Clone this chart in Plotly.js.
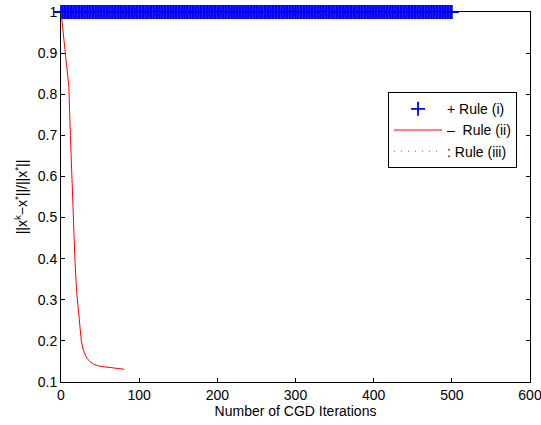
<!DOCTYPE html>
<html>
<head>
<meta charset="utf-8">
<script src="https://cdn.plot.ly/plotly-3.0.1.min.js"></script>
<style>html,body{margin:0;padding:0;background:#fff;}#chart{width:541px;height:425px;}</style>
</head>
<body>
<div id="chart"></div>
<script>
// Rule (i): relative error stays at 1 for all 500 iterations (markers every 2 iterations)
const ruleIIter = [
0,2,4,6,8,10,12,14,16,18,20,22,24,26,28,30,32,34,36,38,40,42,44,46,48,
50,52,54,56,58,60,62,64,66,68,70,72,74,76,78,80,82,84,86,88,90,92,94,96,98,
100,102,104,106,108,110,112,114,116,118,120,122,124,126,128,130,132,134,136,138,140,142,144,146,148,
150,152,154,156,158,160,162,164,166,168,170,172,174,176,178,180,182,184,186,188,190,192,194,196,198,
200,202,204,206,208,210,212,214,216,218,220,222,224,226,228,230,232,234,236,238,240,242,244,246,248,
250,252,254,256,258,260,262,264,266,268,270,272,274,276,278,280,282,284,286,288,290,292,294,296,298,
300,302,304,306,308,310,312,314,316,318,320,322,324,326,328,330,332,334,336,338,340,342,344,346,348,
350,352,354,356,358,360,362,364,366,368,370,372,374,376,378,380,382,384,386,388,390,392,394,396,398,
400,402,404,406,408,410,412,414,416,418,420,422,424,426,428,430,432,434,436,438,440,442,444,446,448,
450,452,454,456,458,460,462,464,466,468,470,472,474,476,478,480,482,484,486,488,490,492,494,496,498,
500];
const ruleIErr = [
1,1,1,1,1,1,1,1,1,1,1,1,1,1,1,1,1,1,1,1,1,1,1,1,1,
1,1,1,1,1,1,1,1,1,1,1,1,1,1,1,1,1,1,1,1,1,1,1,1,1,
1,1,1,1,1,1,1,1,1,1,1,1,1,1,1,1,1,1,1,1,1,1,1,1,1,
1,1,1,1,1,1,1,1,1,1,1,1,1,1,1,1,1,1,1,1,1,1,1,1,1,
1,1,1,1,1,1,1,1,1,1,1,1,1,1,1,1,1,1,1,1,1,1,1,1,1,
1,1,1,1,1,1,1,1,1,1,1,1,1,1,1,1,1,1,1,1,1,1,1,1,1,
1,1,1,1,1,1,1,1,1,1,1,1,1,1,1,1,1,1,1,1,1,1,1,1,1,
1,1,1,1,1,1,1,1,1,1,1,1,1,1,1,1,1,1,1,1,1,1,1,1,1,
1,1,1,1,1,1,1,1,1,1,1,1,1,1,1,1,1,1,1,1,1,1,1,1,1,
1,1,1,1,1,1,1,1,1,1,1,1,1,1,1,1,1,1,1,1,1,1,1,1,1,
1];

// Rule (ii)
const ruleIIIter = [0,5,10,12,14,16,18,20,22,24,26,28,30,33,37,42,48,55,64,72,81];
const ruleIIErr  = [1.000,0.910,0.820,0.700,0.590,0.480,0.390,0.320,0.275,0.235,0.200,0.182,0.170,0.158,0.150,0.143,0.139,0.137,0.135,0.133,0.131];

// Rule (iii) (hidden beneath Rule (i))
const ruleIIIIter = [0,500];
const ruleIIIErr  = [1,1];

const legendNames = ['+ Rule (i)', '\u2013\u00a0\u00a0Rule (ii)', ':\u00a0Rule (iii)'];
const xTicks = [0,100,200,300,400,500,600];
const yTicks = [0.1,0.2,0.3,0.4,0.5,0.6,0.7,0.8,0.9,1];

const traces = [
  {x: ruleIIter, y: ruleIErr, name: legendNames[0], type: 'scatter', mode: 'markers',
   cliponaxis: false,
   marker: {symbol: 'cross-thin', size: 10, color: '#0000ff', line: {color: '#0000ff', width: 1.8}}},
  {x: ruleIIIter, y: ruleIIErr, name: legendNames[1], type: 'scatter', mode: 'lines',
   line: {color: '#ff0000', width: 1}},
  {x: ruleIIIIter, y: ruleIIIErr, name: legendNames[2], type: 'scatter', mode: 'lines',
   line: {color: '#666666', width: 1, dash: '1px,6px'}}
];

const axisCommon = {
  showline: true, linecolor: '#000', linewidth: 1, mirror: 'ticks',
  ticks: 'inside', ticklen: 4, tickwidth: 1, tickcolor: '#000',
  showgrid: false, zeroline: false,
  tickfont: {family: 'Liberation Sans, Arial, sans-serif', size: 14, color: '#000'}
};

const layout = {
  width: 541, height: 425,
  margin: {l: 61, r: 11, t: 12, b: 43},
  paper_bgcolor: '#fff', plot_bgcolor: '#fff',
  font: {family: 'Liberation Sans, Arial, sans-serif', size: 14, color: '#000'},
  xaxis: Object.assign({}, axisCommon, {
    range: [0, 600], tickmode: 'array', tickvals: xTicks, ticktext: xTicks.map(String),
    ticklabeloverflow: 'allow',
    title: {text: 'Number of CGD Iterations', font: {size: 14, color: '#000'}, standoff: 4}
  }),
  yaxis: Object.assign({}, axisCommon, {
    range: [0.1, 1], tickmode: 'array', tickvals: yTicks, ticktext: yTicks.map(String),
    title: {text: '||x<sup>k</sup>\u2212x<sup>*</sup>||/||x<sup>*</sup>||', font: {size: 14, color: '#000'}, standoff: 6}
  }),
  showlegend: true,
  legend: {x: 0.9723, xanchor: 'right', y: 0.7832, yanchor: 'top',
    bgcolor: '#fff', bordercolor: '#000', borderwidth: 1,
    font: {size: 14, color: '#000'}, itemwidth: 48, tracegroupgap: 0}
};

Plotly.newPlot('chart', traces, layout, {displayModeBar: false, staticPlot: true});
</script>
</body>
</html>
